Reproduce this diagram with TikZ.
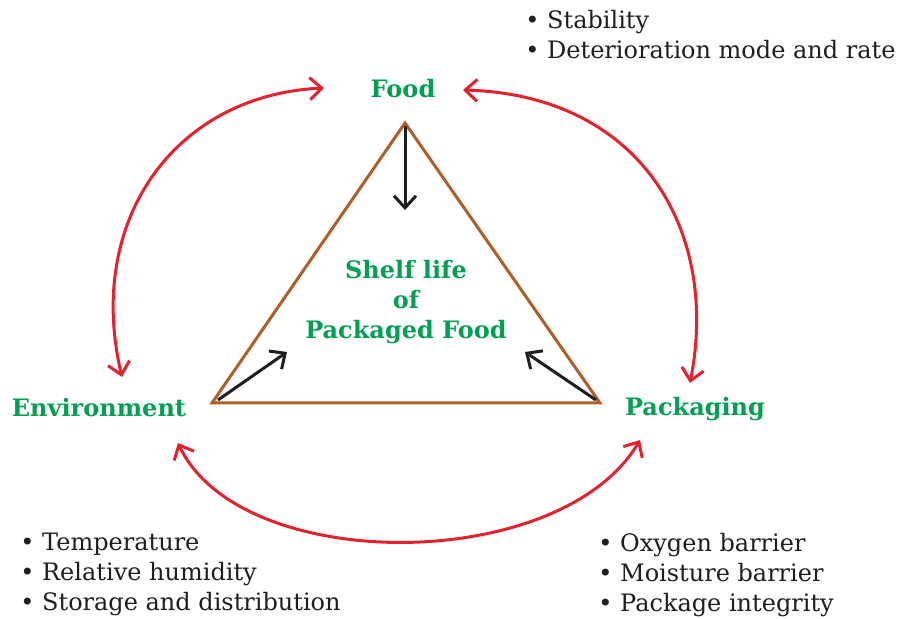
\documentclass[tikz,border=0pt]{standalone}
\usepackage{fontspec}
\setmainfont{DejaVu Serif}
\usepackage{tikz}
\usetikzlibrary{positioning,arrows.meta,calc}
\usepackage{xcolor}
\definecolor{leafgreen}{RGB}{0,160,80}
\definecolor{linkred}{RGB}{232,32,44}
\definecolor{rust}{RGB}{178,92,40}
\definecolor{ink}{RGB}{30,30,30}

\tikzset{
  lbl/.style={text=leafgreen,font=\fontsize{12}{15}\selectfont\bfseries,align=center,inner sep=0pt},
  note/.style={text=ink,font=\fontsize{12}{15}\selectfont,align=left,anchor=north west,inner sep=0pt},
  link/.style={draw=linkred,line width=1.5pt,{Straight Barb[length=6pt,width=11pt]}-{Straight Barb[length=6pt,width=11pt]}},
  push/.style={draw=ink,line width=1.5pt,-{Straight Barb[length=6pt,width=11pt]}}
}

\begin{document}
\begin{tikzpicture}[x=0.5pt,y=-0.5pt]
\useasboundingbox (0,0) rectangle (900,619);

% corner labels
\node[lbl] (food) at (403,89) {Food};
\node[lbl] (env) at (99,408) {Environment};
\node[lbl] (pack) at (695,409) {Packaging};
\node[lbl] (shelf) at (406,302) {Shelf life\\of\\Packaged Food};

% the triangle
\coordinate (top) at (405,123);
\coordinate (lft) at (212,403);
\coordinate (rgt) at (600,403);
\draw[rust,line width=1.5pt,line join=miter] (top) -- (lft) -- (rgt) -- cycle;

% pushes towards the centre
\coordinate (topend) at (405,210);
\coordinate (lftend) at (287,352);
\coordinate (rgtend) at (525,352);
\draw[push] ($(top)+(0,3)$) -- (topend);
\draw[push] ($(lft)+(6,-3)$) -- (lftend);
\draw[push] ($(rgt)+(-4,-3)$) -- (rgtend);

% links between the three factors
\coordinate (foodW) at (324,88);
\coordinate (foodE) at (463,90);
\coordinate (envN) at (122,377);
\coordinate (envE) at (178,443);
\coordinate (packN) at (690,383);
\coordinate (packW) at (640,440);
\draw[link] (foodW) .. controls (175,95) and (85,220) .. (envN);
\draw[link] (foodE) .. controls (640,95) and (720,230) .. (packN);
\draw[link] (envE) .. controls (240,575) and (560,575) .. (packW);

% bullet notes
\node[note] (foodnote) at (525,10) {\textbullet\ Stability\\\textbullet\ Deterioration mode and rate};
\node[note] (envnote) at (20,533) {\textbullet\ Temperature\\\textbullet\ Relative humidity\\\textbullet\ Storage and distribution};
\node[note] (packnote) at (598,533) {\textbullet\ Oxygen barrier\\\textbullet\ Moisture barrier\\\textbullet\ Package integrity};
\end{tikzpicture}
\end{document}
